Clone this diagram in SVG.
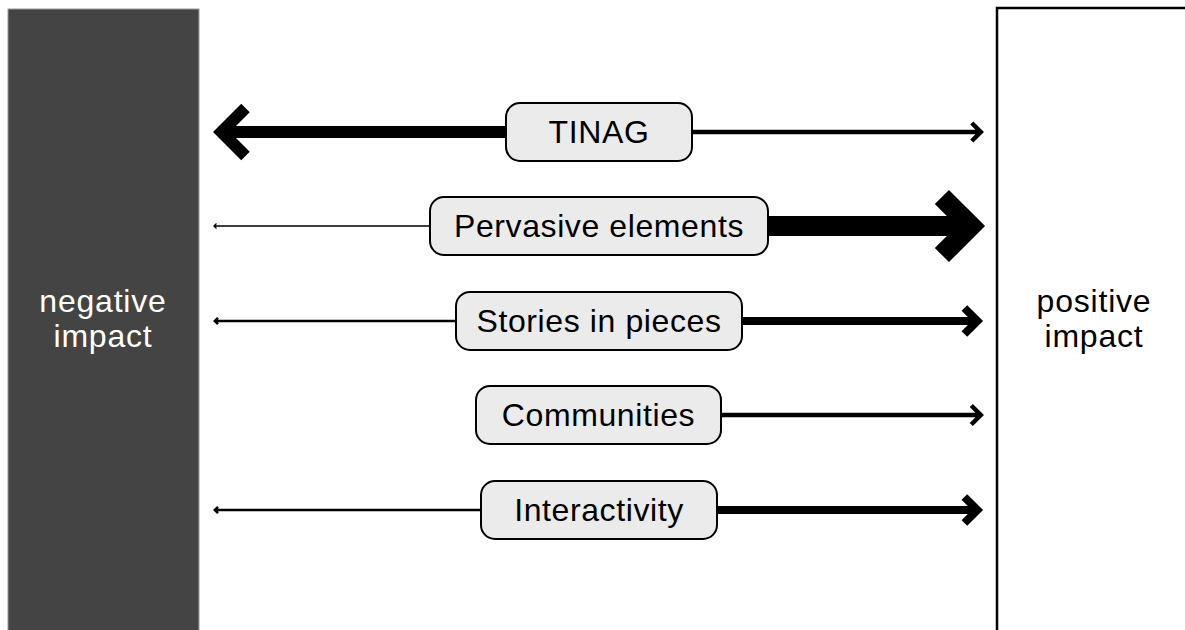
<svg xmlns="http://www.w3.org/2000/svg" width="1185" height="630" viewBox="0 0 1185 630">
<style>
.node rect{fill:#ebebeb;stroke:#000;stroke-width:2}
.lbl{font-family:"Liberation Sans",Arial,sans-serif;font-size:32px;letter-spacing:0.6px;text-anchor:middle;fill:#000}
.side{font-family:"Liberation Sans",Arial,sans-serif;font-size:32px;letter-spacing:0.8px;text-anchor:middle}
.conn path{fill:none;stroke:#000;stroke-linejoin:miter;stroke-miterlimit:10;stroke-linecap:butt}
</style>
<rect width="1185" height="630" fill="#fff"/>
<g id="negative">
<rect x="8" y="9" width="191" height="630" fill="#444" stroke="#9a9a9a" stroke-width="1"/>
<text class="side" x="103" y="312" fill="#fff">negative</text>
<text class="side" x="103" y="347" fill="#fff">impact</text>
</g>
<g id="positive">
<rect x="997" y="8" width="200" height="640" fill="#fff" stroke="#000" stroke-width="2.5"/>
<text class="side" x="1094" y="312" fill="#000">positive</text>
<text class="side" x="1094" y="347" fill="#000">impact</text>
</g>
<g id="connectors" class="conn">
<path stroke-width="12" d="M506 132 H221.5 M245.5 108 L221.5 132 L245.5 156"/>
<path stroke-width="4.5" d="M692 132 H980.8 M971.8 123 L980.8 132 L971.8 141"/>
<path stroke-width="1.3" d="M430 226 H214 M216.5 223.5 L214 226 L216.5 228.5"/>
<path stroke-width="20" d="M768 226 H970.9 M941.9 197 L970.9 226 L941.9 255"/>
<path stroke-width="2.5" d="M457 321 H214.8 M218 317.8 L214.8 321 L218 324.2"/>
<path stroke-width="8" d="M742 321 H977.4 M964.4 308 L977.4 321 L964.4 334"/>
<path stroke-width="4.5" d="M721 415 H980.8 M971.3 405.5 L980.8 415 L971.3 424.5"/>
<path stroke-width="2.5" d="M481 510 H214.8 M218 506.8 L214.8 510 L218 513.2"/>
<path stroke-width="8" d="M717 510 H977.4 M964.4 497 L977.4 510 L964.4 523"/>
</g>
<g id="tinag" class="node"><rect x="506" y="103" width="186" height="58" rx="14"/><text class="lbl" x="599" y="143">TINAG</text></g>
<g id="pervasive" class="node"><rect x="430" y="197" width="338" height="58" rx="14"/><text class="lbl" x="599" y="237">Pervasive elements</text></g>
<g id="stories" class="node"><rect x="456" y="292" width="286" height="58" rx="14"/><text class="lbl" x="599" y="332">Stories in pieces</text></g>
<g id="communities" class="node"><rect x="476" y="386" width="245" height="58" rx="14"/><text class="lbl" x="598.5" y="426">Communities</text></g>
<g id="interactivity" class="node"><rect x="481" y="481" width="236" height="58" rx="14"/><text class="lbl" x="599" y="521">Interactivity</text></g>
</svg>
